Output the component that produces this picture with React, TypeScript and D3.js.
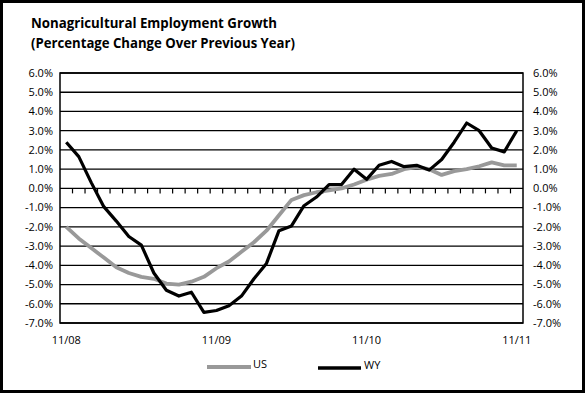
import React from "react";
import * as d3 from "d3";

// monthly, 11/08 .. 11/11
const usGrowth = [
  -2.0, -2.6, -3.1, -3.6, -4.1, -4.4, -4.6, -4.7, -4.95, -5.0, -4.85, -4.6, -4.15,
  -3.8, -3.3, -2.8, -2.2, -1.4, -0.6, -0.35, -0.2, -0.1, 0.0, 0.2, 0.45, 0.65,
  0.75, 1.0, 1.1, 1.0, 0.7, 0.9, 1.0, 1.15, 1.35, 1.2, 1.2,
];
const wyGrowth = [
  2.4, 1.65, 0.3, -0.95, -1.7, -2.5, -2.95, -4.4, -5.3, -5.6, -5.4, -6.45, -6.35,
  -6.1, -5.6, -4.7, -3.9, -2.2, -1.95, -0.9, -0.45, 0.2, 0.2, 1.0, 0.47, 1.2,
  1.4, 1.13, 1.2, 0.95, 1.5, 2.4, 3.4, 3.0, 2.1, 1.9, 3.0,
];
const yearLabels = ["11/08", "11/09", "11/10", "11/11"];
const yearLabelMonths = [0, 12, 24, 36];
const yTicks = [6, 5, 4, 3, 2, 1, 0, -1, -2, -3, -4, -5, -6, -7];

const W = 585;
const H = 393;
const plot = { left: 60, right: 523, top: 73, bottom: 323 };
const font = "'Open Sans', 'DejaVu Sans', sans-serif";
const usColor = "#999";

export default function App() {
  const months = d3.range(usGrowth.length);

  const x = d3
    .scaleBand<number>()
    .domain(months)
    .range([plot.left, plot.right]);
  const cx = (i: number) => (x(i) as number) + x.bandwidth() / 2;

  const y = d3.scaleLinear().domain([-7, 6]).range([plot.bottom, plot.top]);

  const line = d3
    .line<number>()
    .x((_, i) => cx(i))
    .y((d) => y(d));

  const fmt = (v: number) => v.toFixed(1) + "%";

  return (
    <svg
      width={W}
      height={H}
      style={{ position: "absolute", left: 0, top: 0, background: "#fff" }}
      fontFamily={font}
    >
      <rect x={1.5} y={1.5} width={W - 3} height={H - 3} fill="#fff" stroke="#000" strokeWidth={3} />

      <text x={31} y={28} fontSize={14} fontWeight="bold" textLength={246} lengthAdjust="spacingAndGlyphs">
        Nonagricultural Employment Growth
      </text>
      <text x={31} y={48} fontSize={14} fontWeight="bold" textLength={264} lengthAdjust="spacingAndGlyphs">
        (Percentage Change Over Previous Year)
      </text>

      {/* grid */}
      {yTicks.map((t) => (
        <line key={t} x1={plot.left} x2={plot.right} y1={y(t)} y2={y(t)} stroke="#000" strokeWidth={1.3} />
      ))}
      <rect
        x={plot.left}
        y={plot.top}
        width={plot.right - plot.left}
        height={plot.bottom - plot.top}
        fill="none"
        stroke="#000"
        strokeWidth={1.5}
      />

      {/* category ticks on the zero line */}
      {months.slice(1).map((i) => (
        <line key={i} x1={x(i)} x2={x(i)} y1={y(0)} y2={y(0) + 5} stroke="#000" strokeWidth={1.2} />
      ))}

      {/* y labels */}
      {yTicks.map((t) => (
        <g key={t} fontSize={11} fill="#000">
          <text x={53} y={y(t)} dy="0.35em" textAnchor="end">{fmt(t)}</text>
          <text x={533} y={y(t)} dy="0.35em">{fmt(t)}</text>
        </g>
      ))}

      {yearLabels.map((l, k) => (
        <text key={l} x={cx(yearLabelMonths[k])} y={340} dy="0.35em" textAnchor="middle" fontSize={11}>
          {l}
        </text>
      ))}

      <path d={line(usGrowth) as string} fill="none" stroke={usColor} strokeWidth={3.8} strokeLinejoin="round" />
      <path d={line(wyGrowth) as string} fill="none" stroke="#000" strokeWidth={3.2} strokeLinejoin="round" />

      {/* legend */}
      <line x1={207} x2={251} y1={367} y2={367} stroke={usColor} strokeWidth={3.8} />
      <text x={253} y={364} dy="0.35em" fontSize={11}>US</text>
      <line x1={318} x2={361} y1={368} y2={368} stroke="#000" strokeWidth={3.5} />
      <text x={364} y={365} dy="0.35em" fontSize={11}>WY</text>
    </svg>
  );
}
